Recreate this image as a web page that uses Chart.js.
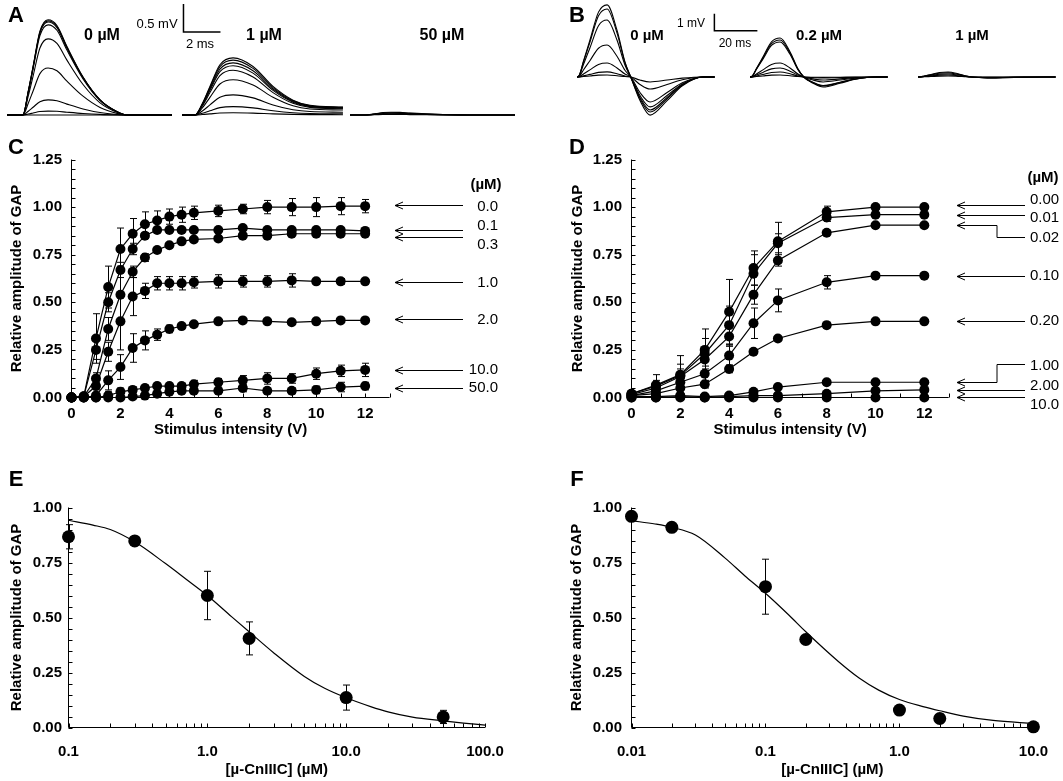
<!DOCTYPE html>
<html><head><meta charset="utf-8">
<script src="https://cdn.jsdelivr.net/npm/chart.js@4.4.1/dist/chart.umd.min.js"></script>
<style>
body{margin:0;background:#fff;width:1063px;height:781px;position:relative;overflow:hidden;font-family:"Liberation Sans",Arial,sans-serif;color:#000;}
canvas{position:absolute;}
.t{position:absolute;white-space:nowrap;line-height:1;transform:translate(-50%,-50%);}
.letter{font-weight:bold;font-size:22px;}
.cA{font-weight:bold;font-size:16px;}
.cB{font-weight:bold;font-size:15px;}
.sA{font-size:13px;}
.sB{font-size:12px;}
</style></head><body>
<canvas id="a0" width="165" height="125" style="left:7px;top:0px"></canvas>
<canvas id="a1" width="168" height="125" style="left:182px;top:0px"></canvas>
<canvas id="a50" width="178" height="125" style="left:350px;top:0px"></canvas>
<canvas id="b0" width="185" height="125" style="left:577px;top:0px"></canvas>
<canvas id="b02" width="138" height="125" style="left:750px;top:0px"></canvas>
<canvas id="b1" width="145" height="125" style="left:918px;top:0px"></canvas>
<canvas id="cC" width="540" height="300" style="left:0px;top:140px"></canvas>
<canvas id="cD" width="523" height="300" style="left:540px;top:140px"></canvas>
<canvas id="cE" width="540" height="311" style="left:0px;top:470px"></canvas>
<canvas id="cF" width="523" height="311" style="left:540px;top:470px"></canvas>

<div class="t letter" style="left:16px;top:15px">A</div>
<div class="t letter" style="left:577px;top:15px">B</div>
<div class="t letter" style="left:16px;top:147px">C</div>
<div class="t letter" style="left:577px;top:147px">D</div>
<div class="t letter" style="left:16px;top:479px">E</div>
<div class="t letter" style="left:577px;top:479px">F</div>

<div class="t cA" style="left:102px;top:35px">0 µM</div>
<div class="t cA" style="left:264px;top:35px">1 µM</div>
<div class="t cA" style="left:442px;top:35px">50 µM</div>
<div class="t sA" style="left:157px;top:23px">0.5 mV</div>
<div class="t sA" style="left:200px;top:43px">2 ms</div>

<div class="t cB" style="left:647px;top:34px">0 µM</div>
<div class="t cB" style="left:819px;top:34px">0.2 µM</div>
<div class="t cB" style="left:972px;top:34px">1 µM</div>
<div class="t sB" style="left:691px;top:23px">1 mV</div>
<div class="t sB" style="left:735px;top:43px">20 ms</div>

<script>
// ---------- Panel A: GAP traces (ms, mV) ----------
const tA0 = [0, 0.86, 1.15, 1.41, 1.78, 2.22, 2.7, 3.24, 4.11, 5.03, 5.95, 6.49, 8.92];
const shapeA0 = [0, 0, 0.25, 0.51, 0.88, 1, 0.94, 0.72, 0.40, 0.16, 0.035, 0, 0];
const ampA0 = [1.70, 1.68, 1.66, 1.61, 1.36, 0.84, 0.27, 0.07, 0];
const tA1 = [0, 0.7, 1.1, 1.51, 2.05, 2.76, 3.84, 4.92, 6.0, 6.92, 8.7];
const shapeA1 = [0, 0, 0.2, 0.5, 0.88, 1, 0.85, 0.5, 0.26, 0.17, 0.14];
const ampA1 = [1.02, 0.98, 0.93, 0.88, 0.80, 0.63, 0.36, 0.15, 0.04];
const ampA50 = [0.05, 0.04, 0.03, 0.02, 0.01];

// ---------- Panel B: CAP traces (ms, mV) ----------
const tB = [0, 1, 3, 6, 10, 14, 18.6, 22.3, 25, 29.3, 34, 41.9, 49, 58.6, 64];
const posShapeB = [0, 0.02, 0.22, 0.51, 0.9, 1, 0.65, 0.21, 0, 0, 0, 0, 0, 0, 0];
const negShapeB = [0, 0, 0, 0, 0, 0, 0, 0, 0, 0.62, 1, 0.62, 0.23, 0, 0];
const posB0 = [4.24, 4.0, 3.35, 1.88, 0.82, 0.30, 0.12];
const negB0 = [2.24, 2.06, 1.94, 1.76, 1.47, 0.71, 0.29];
const posB02 = [2.29, 2.18, 2.06, 0.82, 0.53, 0.29, 0.12];
const negB02 = [0.59, 0.53, 0.50, 0.29, 0.18, 0.06, 0.02];
const posB1 = [0.29, 0.24, 0.18, 0.12, 0.06];
const negB1 = [0.06, 0.05, 0.04, 0.02, 0.01];

// ---------- Panel C ----------
const stimC = [0, 0.5, 1, 1.5, 2, 2.5, 3, 3.5, 4, 4.5, 5, 6, 7, 8, 9, 10, 11, 12];
const C_00 = [0, 0.005, 0.31, 0.58, 0.78, 0.86, 0.91, 0.93, 0.95, 0.96, 0.97, 0.98, 0.99, 1.00, 1.00, 1.00, 1.005, 1.005];
const C_01 = [0, 0.005, 0.25, 0.50, 0.67, 0.78, 0.85, 0.88, 0.88, 0.88, 0.88, 0.88, 0.89, 0.88, 0.88, 0.88, 0.88, 0.875];
const C_03 = [0, 0.005, 0.10, 0.36, 0.54, 0.66, 0.735, 0.775, 0.80, 0.82, 0.83, 0.835, 0.85, 0.85, 0.86, 0.86, 0.86, 0.86];
const C_10 = [0, 0.005, 0.06, 0.24, 0.40, 0.53, 0.56, 0.60, 0.60, 0.60, 0.605, 0.61, 0.61, 0.61, 0.615, 0.61, 0.61, 0.61];
const C_20 = [0, 0, 0.01, 0.09, 0.16, 0.26, 0.30, 0.33, 0.36, 0.375, 0.385, 0.40, 0.405, 0.40, 0.395, 0.40, 0.405, 0.405];
const C_100 = [0, 0, 0, 0.01, 0.03, 0.04, 0.05, 0.06, 0.06, 0.06, 0.07, 0.08, 0.09, 0.10, 0.10, 0.125, 0.14, 0.145];
const C_500 = [0, 0, 0, 0, 0, 0.005, 0.01, 0.02, 0.03, 0.035, 0.035, 0.035, 0.05, 0.035, 0.035, 0.04, 0.055, 0.06];
const errC_00 = [0, 0, 0.13, 0.11, 0.11, 0.08, 0.065, 0.05, 0.04, 0.04, 0.035, 0.03, 0.025, 0.035, 0.045, 0.05, 0.045, 0.035];
const errC_01 = [0, 0, 0.05, 0.05, 0.04, 0.03, 0.015, 0.01, 0.01, 0.01, 0.01, 0.01, 0.01, 0.01, 0.01, 0.01, 0.01, 0.01];
const errC_03 = [0, 0, 0.03, 0.06, 0.15, 0.03, 0.02, 0.01, 0.01, 0.01, 0.01, 0.01, 0.01, 0.01, 0.01, 0.01, 0.01, 0.01];
const errC_10 = [0, 0, 0.02, 0.05, 0.15, 0.10, 0.04, 0.035, 0.035, 0.035, 0.03, 0.035, 0.03, 0.03, 0.035, 0.015, 0.015, 0.015];
const errC_20 = [0, 0, 0.01, 0.05, 0.065, 0.075, 0.05, 0.03, 0.02, 0.01, 0.01, 0.01, 0.01, 0.01, 0.01, 0.01, 0.01, 0.01];
const errC_100 = [0, 0, 0, 0.02, 0.02, 0.015, 0.015, 0.015, 0.015, 0.015, 0.02, 0.02, 0.025, 0.03, 0.025, 0.03, 0.03, 0.035];
const errC_500 = [0, 0, 0, 0, 0, 0.01, 0.01, 0.01, 0.01, 0.01, 0.01, 0.015, 0.02, 0.015, 0.015, 0.02, 0.025, 0.02];
const concLabelsC = ['0.0', '0.1', '0.3', '1.0', '2.0', '10.0', '50.0'];
const arrowLevelC = [1.011, 0.880, 0.843, 0.607, 0.412, 0.144, 0.05];
const labelLevelC = [1.0, 0.90, 0.80, 0.601, 0.407, 0.144, 0.05];

// ---------- Panel D ----------
const stimD = [0, 1, 2, 3, 4, 5, 6, 8, 10, 12];
const D_000 = [0.02, 0.065, 0.12, 0.25, 0.45, 0.68, 0.82, 0.975, 1.00, 1.00];
const D_001 = [0.02, 0.06, 0.115, 0.23, 0.38, 0.65, 0.81, 0.945, 0.96, 0.96];
const D_002 = [0.015, 0.05, 0.11, 0.20, 0.32, 0.54, 0.72, 0.865, 0.905, 0.905];
const D_010 = [0.01, 0.035, 0.08, 0.125, 0.22, 0.39, 0.51, 0.605, 0.64, 0.64];
const D_020 = [0.01, 0.02, 0.05, 0.07, 0.15, 0.24, 0.31, 0.38, 0.40, 0.40];
const D_100 = [0.005, 0.005, 0.01, 0.005, 0.01, 0.03, 0.055, 0.08, 0.08, 0.08];
const D_200 = [0, 0, 0.005, 0, 0.005, 0.01, 0.01, 0.02, 0.035, 0.04];
const D_1000 = [0, 0, 0, 0, 0, 0, 0, 0, 0, 0];
const errD_000 = [0.01, 0.055, 0.10, 0.11, 0.17, 0.09, 0.10, 0.03, 0.01, 0.01];
const errD_001 = [0, 0.03, 0.06, 0.08, 0.10, 0.10, 0.05, 0.02, 0.01, 0.01];
const errD_002 = [0, 0.02, 0.04, 0.06, 0.05, 0.05, 0.03, 0.01, 0, 0];
const errD_010 = [0, 0.01, 0.02, 0.04, 0.05, 0.08, 0.06, 0.035, 0.01, 0.01];
const errD_020 = [0, 0, 0.01, 0.02, 0.02, 0.01, 0.01, 0.01, 0.01, 0.01];
const errD_zero = [0, 0, 0, 0, 0, 0, 0, 0, 0, 0];
const concLabelsD = ['0.00', '0.01', '0.02', '0.10', '0.20', '1.00', '2.00', '10.0'];
const arrowLevelD = [1.011, 0.958, 0.906, 0.638, 0.402, 0.081, 0.039, 0.003];
const elbowLevelD = [null, null, 0.841, null, null, 0.174, null, null];
const labelLevelD = [1.037, 0.943, 0.838, 0.638, 0.402, 0.165, 0.06, -0.04];

// ---------- Panel E / F (dose-response) ----------
const concE = [0.1, 0.3, 1, 2, 10, 50];
const ampE = [0.867, 0.848, 0.60, 0.405, 0.136, 0.048];
const errE = [0.055, 0.01, 0.11, 0.075, 0.057, 0.03];
const fitXE = [0.1, 0.15, 0.2, 0.3, 0.5, 0.7, 1, 1.5, 2, 3, 5, 7, 10, 15, 20, 30, 50, 70, 100];
const fitYE = [0.942, 0.92, 0.90, 0.844, 0.745, 0.675, 0.60, 0.503, 0.435, 0.34, 0.232, 0.178, 0.135, 0.095, 0.071, 0.047, 0.03, 0.02, 0.011];
const concF = [0.01, 0.02, 0.1, 0.2, 1, 2, 10];
const ampF = [0.96, 0.91, 0.64, 0.40, 0.079, 0.041, 0.003];
const errF = [0.01, 0.01, 0.125, 0.01, 0.02, 0.02, 0];
const fitXF = [0.01, 0.015, 0.02, 0.03, 0.05, 0.07, 0.1, 0.15, 0.2, 0.35, 0.5, 0.7, 1, 1.5, 2, 3, 5, 10];
const fitYF = [0.94, 0.925, 0.91, 0.875, 0.77, 0.69, 0.61, 0.51, 0.435, 0.30, 0.225, 0.17, 0.127, 0.095, 0.076, 0.052, 0.032, 0.018];

// ---------- tick labels ----------
const xTicksCD = [0, 2, 4, 6, 8, 10, 12];
const xTickLabelsCD = ['0', '2', '4', '6', '8', '10', '12'];
const yTicksCD = [0, 0.25, 0.5, 0.75, 1.0, 1.25];
const yTickLabelsCD = ['0.00', '0.25', '0.50', '0.75', '1.00', '1.25'];
const yTicksEF = [0, 0.25, 0.5, 0.75, 1.0];
const yTickLabelsEF = ['0.00', '0.25', '0.50', '0.75', '1.00'];
const xTicksE = [0.1, 1, 10, 100];
const xTickLabelsE = ['0.1', '1.0', '10.0', '100.0'];
const xTicksF = [0.01, 0.1, 1, 10];
const xTickLabelsF = ['0.01', '0.1', '1.0', '10.0'];

// ================= rendering =================
const FONT = '"Liberation Sans", Arial, Helvetica, sans-serif';
Chart.defaults.font.family = FONT;
Chart.defaults.color = '#000';
Chart.defaults.animation = false;
Chart.defaults.responsive = false;
Chart.defaults.plugins.legend.display = false;
Chart.defaults.plugins.tooltip.enabled = false;

const scaleBar = {
  id: 'scaleBar',
  afterDraw(chart, args, o) {
    if (!o || o.t == null) return;
    const xs = chart.scales.x, ys = chart.scales.y, ctx = chart.ctx;
    const x0 = xs.getPixelForValue(o.t), y0 = ys.getPixelForValue(o.v);
    const x1 = xs.getPixelForValue(o.t + o.dt), y1 = ys.getPixelForValue(o.v + o.dv);
    ctx.save(); ctx.strokeStyle = '#000'; ctx.lineWidth = 1.5;
    ctx.beginPath(); ctx.moveTo(x0, y1); ctx.lineTo(x0, y0); ctx.lineTo(x1, y0); ctx.stroke();
    ctx.restore();
  }
};

function traceChart(id, tArr, curves, xMax, yMin, yMax, bar) {
  const datasets = curves.map(c => ({
    data: tArr.map((t, i) => ({x: t, y: c[i]})),
    borderColor: '#000', borderWidth: 1.1, pointRadius: 0, fill: false,
    cubicInterpolationMode: 'monotone'
  }));
  new Chart(document.getElementById(id), {
    type: 'line',
    data: {datasets},
    options: {
      layout: {padding: 0},
      scales: {
        x: {type: 'linear', display: false, min: 0, max: xMax},
        y: {display: false, min: yMin, max: yMax}
      },
      plugins: {scaleBar: bar || {}}
    },
    plugins: [scaleBar]
  });
}

const aCurves = (shape, amps) => amps.map(a => shape.map(s => a * s));
const bCurves = (pos, neg) => pos.map((p, k) => posShapeB.map((s, i) => p * s - neg[k] * negShapeB[i]));

// A: 18.5 px per ms, 56 px per mV, baseline at y=115
const A_pxms = 18.5, A_pxmv = 56;
traceChart('a0', tA0, aCurves(shapeA0, ampA0), 165 / A_pxms, -10 / A_pxmv, 115 / A_pxmv);
traceChart('a1', tA1, aCurves(shapeA1, ampA1), 168 / A_pxms, -10 / A_pxmv, 115 / A_pxmv,
  {t: 0.08, v: 1.48, dt: 2, dv: 0.5});
traceChart('a50', tA0, aCurves(shapeA0, ampA50), 178 / A_pxms, -10 / A_pxmv, 115 / A_pxmv);
// B: 2.15 px per ms, 17 px per mV, baseline at y=77
const B_pxms = 2.15, B_pxmv = 17;
traceChart('b0', tB, bCurves(posB0, negB0), 185 / B_pxms, -48 / B_pxmv, 77 / B_pxmv,
  {t: 63.9, v: 2.72, dt: 20, dv: 1});
traceChart('b02', tB, bCurves(posB02, negB02), 138 / B_pxms, -48 / B_pxmv, 77 / B_pxmv);
traceChart('b1', tB, bCurves(posB1, negB1), 145 / B_pxms, -48 / B_pxmv, 77 / B_pxmv);

// axes lines + inward ticks
const axesTicks = {
  id: 'axesTicks',
  beforeDatasetsDraw(chart, args, o) {
    const a = chart.chartArea, ctx = chart.ctx, xs = chart.scales.x, ys = chart.scales.y;
    ctx.save(); ctx.strokeStyle = '#000'; ctx.lineWidth = 1;
    ctx.beginPath();
    ctx.moveTo(a.left, a.top); ctx.lineTo(a.left, a.bottom); ctx.lineTo(a.right, a.bottom);
    o.xMinor.forEach(v => { const x = Math.round(xs.getPixelForValue(v)) + 0.5; ctx.moveTo(x, a.bottom); ctx.lineTo(x, a.bottom - o.len); });
    o.yMinor.forEach(v => { const y = Math.round(ys.getPixelForValue(v)) + 0.5; ctx.moveTo(a.left, y); ctx.lineTo(a.left + o.len, y); });
    ctx.stroke(); ctx.restore();
  }
};

const errBars = {
  id: 'errBars',
  afterDatasetsDraw(chart, args, o) {
    const ctx = chart.ctx, xs = chart.scales.x, ys = chart.scales.y;
    ctx.save(); ctx.strokeStyle = '#000'; ctx.lineWidth = 1;
    ctx.beginPath();
    chart.data.datasets.forEach(ds => {
      if (!ds.errors) return;
      ds.data.forEach((p, i) => {
        const e = ds.errors[i]; if (!e) return;
        const x = Math.round(xs.getPixelForValue(p.x)) + 0.5;
        const y1 = ys.getPixelForValue(p.y + e), y2 = ys.getPixelForValue(Math.max(p.y - e, ys.min));
        ctx.moveTo(x, y1); ctx.lineTo(x, y2);
        ctx.moveTo(x - o.cap, y1); ctx.lineTo(x + o.cap, y1);
        if (p.y - e >= ys.min) { ctx.moveTo(x - o.cap, y2); ctx.lineTo(x + o.cap, y2); }
      });
    });
    ctx.stroke(); ctx.restore();
  }
};

const arrows = {
  id: 'arrows',
  afterDraw(chart, args, o) {
    if (!o || !o.labels) return;
    const ys = chart.scales.y, ctx = chart.ctx;
    ctx.save(); ctx.strokeStyle = '#000'; ctx.fillStyle = '#000'; ctx.lineWidth = 1;
    ctx.font = '15px ' + FONT; ctx.textBaseline = 'middle'; ctx.textAlign = o.align;
    o.labels.forEach((lab, i) => {
      const yh = Math.round(ys.getPixelForValue(o.heads[i])) + 0.5;
      const el = o.elbows ? o.elbows[i] : null;
      const yt = el != null ? Math.round(ys.getPixelForValue(el)) + 0.5 : yh;
      ctx.beginPath();
      ctx.moveTo(o.xHead, yh);
      if (el != null) { ctx.lineTo(o.xElbow, yh); ctx.lineTo(o.xElbow, yt); }
      ctx.lineTo(o.xTail, yt);
      ctx.moveTo(o.xHead + 8, yh - 3.5); ctx.lineTo(o.xHead, yh); ctx.lineTo(o.xHead + 8, yh + 3.5);
      ctx.stroke();
      ctx.fillText(lab, o.xLabel, ys.getPixelForValue(o.labelAt[i]));
    });
    ctx.font = 'bold 15px ' + FONT; ctx.textAlign = 'center';
    ctx.fillText('(µM)', o.xUnit, ys.getPixelForValue(o.unitAt));
    ctx.restore();
  }
};

const range = (a, b, s) => { const r = []; for (let v = a; v <= b + 1e-9; v += s) r.push(+v.toFixed(4)); return r; };
const logMinor = (decs, max) => { const r = []; decs.forEach(d => { for (let k = 1; k <= 9; k++) if (d * k <= max * 1.0001) r.push(d * k); }); return r; };

const tickFont = {weight: 'bold', size: 15};
const titleFont = {weight: 'bold', size: 15};
const noGrid = {display: false, drawTicks: false, tickLength: 0};

function stimChart(id, stim, series, errs, cfg) {
  const datasets = series.map((s, k) => ({
    data: stim.map((x, i) => ({x, y: s[i]})), errors: errs[k],
    borderColor: '#000', borderWidth: 1.2, pointRadius: 5, pointHoverRadius: 5,
    pointBackgroundColor: '#000', pointBorderWidth: 0, clip: false, tension: 0
  }));
  new Chart(document.getElementById(id), {
    type: 'line',
    data: {datasets},
    options: {
      layout: {padding: cfg.pad},
      scales: {
        x: {
          type: 'linear', min: 0, max: 13,
          grid: noGrid, border: {display: false},
          afterFit: s => { s.height = cfg.xh; },
          afterBuildTicks: s => { s.ticks = xTicksCD.map(v => ({value: v})); },
          ticks: {font: tickFont, padding: 7.5, autoSkip: false, maxRotation: 0, callback: (v, i) => xTickLabelsCD[i]},
          title: {display: true, text: 'Stimulus intensity (V)', font: titleFont, padding: {top: 0, bottom: 1}}
        },
        y: {
          min: 0, max: 1.25,
          grid: noGrid, border: {display: false},
          afterFit: s => { s.width = cfg.yw; },
          afterBuildTicks: s => { s.ticks = yTicksCD.map(v => ({value: v})); },
          ticks: {font: tickFont, padding: 9.5, autoSkip: false, callback: (v, i) => yTickLabelsCD[i]},
          title: {display: true, text: 'Relative amplitude of GAP', font: titleFont, padding: {top: cfg.ytp, bottom: 0}}
        }
      },
      plugins: {
        axesTicks: {xMinor: range(0, 13, 1), yMinor: range(0, 1.25, 0.05), len: 4},
        errBars: {cap: 3.5},
        arrows: cfg.arrows
      }
    },
    plugins: [axesTicks, errBars, arrows]
  });
}

stimChart('cC', stimC, [C_00, C_01, C_03, C_10, C_20, C_100, C_500],
  [errC_00, errC_01, errC_03, errC_10, errC_20, errC_100, errC_500],
  {pad: {left: 0, top: 19.5, right: 150.4, bottom: 0}, xh: 42.5, yw: 71.5, ytp: 8,
   arrows: {labels: concLabelsC, heads: arrowLevelC, labelAt: labelLevelC, align: 'right',
            xHead: 395, xTail: 463, xLabel: 498, xUnit: 486, unitAt: 1.116}});

stimChart('cD', stimD, [D_000, D_001, D_002, D_010, D_020, D_100, D_200, D_1000],
  [errD_000, errD_001, errD_002, errD_010, errD_020, errD_zero, errD_zero, errD_zero],
  {pad: {left: 0, top: 19.5, right: 114.3, bottom: 0}, xh: 42.5, yw: 91.5, ytp: 29,
   arrows: {labels: concLabelsD, heads: arrowLevelD, elbows: elbowLevelD, labelAt: labelLevelD, align: 'left',
            xHead: 417, xTail: 485, xElbow: 457, xLabel: 490, xUnit: 503, unitAt: 1.153}});

function doseChart(id, conc, amp, err, fitX, fitY, xTicks, xLabels, xmin, xmax, cfg) {
  new Chart(document.getElementById(id), {
    type: 'line',
    data: {datasets: [
      {data: fitX.map((x, i) => ({x, y: fitY[i]})), borderColor: '#000', borderWidth: 1.2,
       pointRadius: 0, cubicInterpolationMode: 'monotone', clip: false},
      {data: conc.map((x, i) => ({x, y: amp[i]})), errors: err, showLine: false,
       pointRadius: 6.5, pointHoverRadius: 6.5, pointBackgroundColor: '#000', pointBorderWidth: 0, clip: false}
    ]},
    options: {
      layout: {padding: cfg.pad},
      scales: {
        x: {
          type: 'logarithmic', min: xmin, max: xmax,
          grid: noGrid, border: {display: false},
          afterFit: s => { s.height = cfg.xh; },
          afterBuildTicks: s => { s.ticks = xTicks.map(v => ({value: v})); },
          ticks: {font: tickFont, padding: 15, autoSkip: false, maxRotation: 0, callback: (v, i) => xLabels[i]},
          title: {display: true, text: '[µ-CnIIIC] (µM)', font: titleFont, padding: {top: 0, bottom: 2}}
        },
        y: {
          min: 0, max: 1,
          grid: noGrid, border: {display: false},
          afterFit: s => { s.width = cfg.yw; },
          afterBuildTicks: s => { s.ticks = yTicksEF.map(v => ({value: v})); },
          ticks: {font: tickFont, padding: cfg.ylp, autoSkip: false, callback: (v, i) => yTickLabelsEF[i]},
          title: {display: true, text: 'Relative amplitude of GAP', font: titleFont, padding: {top: cfg.ytp, bottom: 0}}
        }
      },
      plugins: {
        axesTicks: {xMinor: logMinor(xTicks, xmax), yMinor: range(0, 1, 0.05), len: 4},
        errBars: {cap: 3.5}
      }
    },
    plugins: [axesTicks, errBars]
  });
}

doseChart('cE', concE, ampE, errE, fitXE, fitYE, xTicksE, xTickLabelsE, 0.1, 100,
  {pad: {left: 0, top: 37.5, right: 55, bottom: 0}, xh: 53.5, yw: 68.5, ytp: 8, ylp: 6.5});
doseChart('cF', concF, ampF, errF, fitXF, fitYF, xTicksF, xTickLabelsF, 0.01, 10,
  {pad: {left: 0, top: 37.5, right: 26.3, bottom: 0}, xh: 53.5, yw: 91.5, ytp: 28, ylp: 9.5});
</script>
</body></html>
